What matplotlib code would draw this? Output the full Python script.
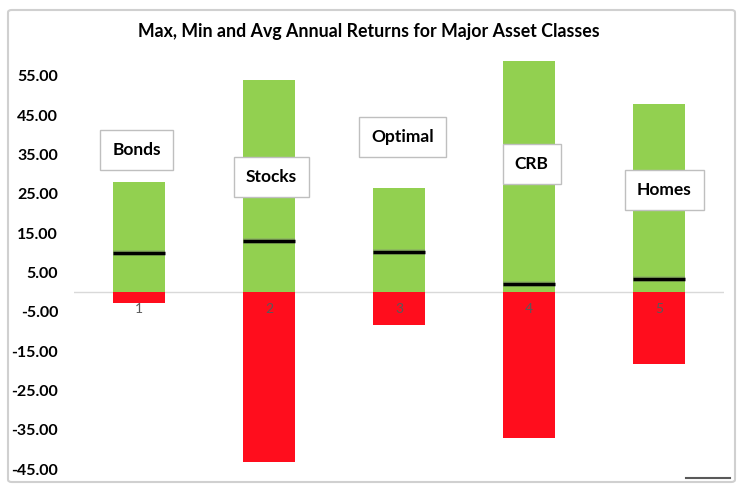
import matplotlib
matplotlib.use('Agg')
import matplotlib.pyplot as plt
from matplotlib.patches import FancyBboxPatch
import numpy as np

# values
assets = ['Bonds', 'Stocks', 'Optimal', 'CRB', 'Homes']
cats = ['1', '2', '3', '4', '5']
max_ret = [28.0, 54.0, 26.5, 58.8, 47.8]
min_ret = [-2.8, -43.3, -8.4, -37.2, -18.3]
avg_ret = [9.9, 13.0, 10.2, 2.0, 3.3]
box_x = [0.98, 2.02, 3.03, 4.02, 5.04]
box_y = [36.1, 29.3, 39.4, 32.6, 26.0]

plt.rcParams['font.family'] = ['Lato', 'DejaVu Sans']

fig = plt.figure(figsize=(7.38, 4.90), dpi=100)
fig.patch.set_facecolor('white')

# chart frame
frame = FancyBboxPatch((8/738, 1-482/490), 727/738, 472/490,
                       boxstyle='round,pad=0,rounding_size=0.005',
                       transform=fig.transFigure, facecolor='none',
                       edgecolor='#d0d0d0', lw=1.5, zorder=5)
fig.patches.append(frame)
fig.add_artist(plt.Line2D([686/738, 730/738], [1-478/490, 1-478/490],
                          transform=fig.transFigure, color='#595959', lw=1.5))

ax = fig.add_axes([74/738, 1-469/490, 650/738, 413/490])
ax.set_facecolor('none')
x = np.arange(1, 6)
w = 0.4
ax.bar(x, max_ret, width=w, color='#92d050', zorder=1)
ax.bar(x, min_ret, width=w, color='#ff0d1d', zorder=1)
ax.hlines(avg_ret, x - w/2, x + w/2, color='#7f7f7f', lw=4, alpha=0.35, zorder=3)
ax.hlines(avg_ret, x - w/2, x + w/2, color='black', lw=2.5, zorder=4)
ax.axhline(0, color='#d9d9d9', lw=1, zorder=0.5)

ax.set_xlim(0.5, 5.5)
ax.set_ylim(-45, 60)
ax.set_yticks(np.arange(-45, 56, 10))
ax.set_yticklabels(['%.2f' % v for v in np.arange(-45, 56, 10)],
                   fontsize=11.5, fontweight='bold', color='black')
ax.tick_params(axis='y', length=0, pad=11.5)
ax.spines['bottom'].set_position(('data', 0))
ax.set_xticks(x)
ax.set_xticklabels(cats, fontsize=10, color='#595959')
ax.tick_params(axis='x', length=0, pad=8)
ax.xaxis.set_zorder(5)
for s in ax.spines.values():
    s.set_visible(False)

for name, bx, by in zip(assets, box_x, box_y):
    ax.text(bx, by, name, ha='center', va='center', fontsize=12.5,
            fontweight='bold', zorder=6,
            bbox=dict(boxstyle='square,pad=0.7', facecolor='white',
                      edgecolor='#bfbfbf', lw=1))

fig.text(0.5, 1-31/490, 'Max, Min and Avg Annual Returns for Major Asset Classes',
         ha='center', va='center', fontsize=12.8, fontweight='bold')

fig.savefig('out.png', dpi=100)
